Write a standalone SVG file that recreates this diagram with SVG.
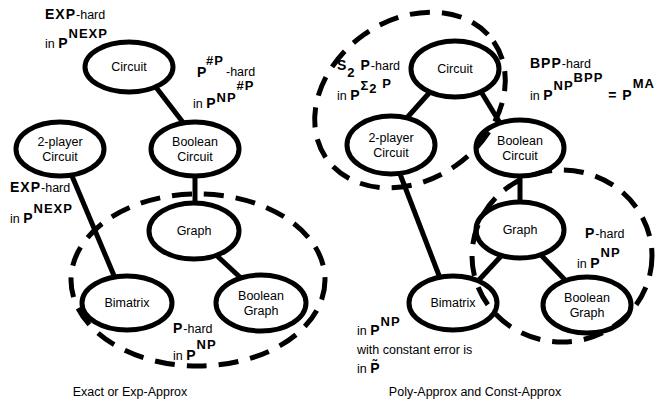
<svg xmlns="http://www.w3.org/2000/svg" width="655" height="401" viewBox="0 0 655 401">
<style>
.n{fill:#fff;stroke:#000;stroke-width:5}
.d{fill:none;stroke:#000;stroke-width:5;stroke-dasharray:20 12}
.c{stroke:#000;stroke-width:5;fill:none}
text{font-family:"Liberation Sans",Arial,sans-serif;fill:#000}
.l{font-size:12.5px;text-anchor:middle}
.r{font-size:12.5px}
.b{font-weight:bold;font-size:14px;letter-spacing:1px}
.s{font-weight:bold;font-size:13px;letter-spacing:1px}
.cap{font-size:12.5px;text-anchor:middle}
</style>
<rect width="655" height="401" fill="#fff"/>
<g id="connectors">
<line class="c" x1="155" y1="86" x2="185" y2="125"/>
<line class="c" x1="195" y1="176" x2="195" y2="203"/>
<line class="c" x1="72" y1="176" x2="115" y2="278"/>
<line class="c" x1="215" y1="254" x2="243" y2="280"/>
<line class="c" x1="480" y1="90" x2="500" y2="123"/>
<line class="c" x1="430" y1="92" x2="405" y2="120"/>
<line class="c" x1="400" y1="174" x2="440" y2="278"/>
<line class="c" x1="520" y1="176" x2="520" y2="203"/>
<line class="c" x1="503" y1="254" x2="478" y2="281"/>
<line class="c" x1="540" y1="254" x2="566" y2="281"/>
</g>
<g id="left-circuit"><ellipse class="n" cx="129" cy="67" rx="44" ry="25"/><text class="l" x="129" y="71">Circuit</text></g>
<g id="left-2player"><ellipse class="n" cx="60" cy="149" rx="44" ry="27"/><text class="l" x="60" y="146">2-player</text><text class="l" x="60" y="161">Circuit</text></g>
<g id="left-boolean-circuit"><ellipse class="n" cx="195" cy="149" rx="44" ry="27"/><text class="l" x="195" y="146">Boolean</text><text class="l" x="195" y="161">Circuit</text></g>
<g id="left-graph"><ellipse class="n" cx="194" cy="231" rx="45" ry="28"/><text class="l" x="194" y="235">Graph</text></g>
<g id="left-bimatrix"><ellipse class="n" cx="127" cy="303" rx="45" ry="27"/><text class="l" x="127" y="307">Bimatrix</text></g>
<g id="left-boolean-graph"><ellipse class="n" cx="261" cy="303" rx="45" ry="28"/><text class="l" x="261" y="300">Boolean</text><text class="l" x="261" y="315">Graph</text></g>
<ellipse class="d" cx="198" cy="280" rx="127" ry="86"/>

<g id="right-circuit"><ellipse class="n" cx="455" cy="69" rx="44" ry="28"/><text class="l" x="455" y="73">Circuit</text></g>
<g id="right-2player"><ellipse class="n" cx="391" cy="145" rx="44" ry="29"/><text class="l" x="391" y="142">2-player</text><text class="l" x="391" y="157">Circuit</text></g>
<g id="right-boolean-circuit"><ellipse class="n" cx="520" cy="148" rx="44" ry="28"/><text class="l" x="520" y="145">Boolean</text><text class="l" x="520" y="160">Circuit</text></g>
<g id="right-graph"><ellipse class="n" cx="520" cy="230" rx="44" ry="28"/><text class="l" x="520" y="234">Graph</text></g>
<g id="right-bimatrix"><ellipse class="n" cx="453" cy="303" rx="44" ry="27"/><text class="l" x="453" y="307">Bimatrix</text></g>
<g id="right-boolean-graph"><ellipse class="n" cx="587" cy="305" rx="44" ry="28"/><text class="l" x="587" y="302">Boolean</text><text class="l" x="587" y="317">Graph</text></g>
<ellipse class="d" cx="410" cy="100" rx="102" ry="80" transform="rotate(-35 410 100)"/>
<ellipse class="d" cx="562" cy="256" rx="90" ry="86"/>

<text class="r" x="45" y="19"><tspan class="b">EXP</tspan>-hard</text>
<text class="r" x="45" y="48">in <tspan class="b">P</tspan><tspan class="s" dy="-10">NEXP</tspan></text>
<text class="b" x="197" y="77">P</text><text class="s" x="206" y="65">#P</text><text class="r" x="226" y="76">-hard</text>
<text class="r" x="193" y="108">in <tspan class="b">P</tspan><tspan class="s" dy="-6">NP</tspan><tspan class="s" dy="-12">#P</tspan></text>
<text class="r" x="10" y="192"><tspan class="b">EXP</tspan>-hard</text>
<text class="r" x="10" y="223">in <tspan class="b">P</tspan><tspan class="s" dy="-10">NEXP</tspan></text>
<text class="r" x="173" y="333"><tspan class="b">P</tspan>-hard</text>
<text class="r" x="173" y="360">in <tspan class="b">P</tspan><tspan class="s" dy="-11">NP</tspan></text>
<text class="cap" x="130" y="396">Exact or Exp-Approx</text>

<text class="r" x="337" y="70"><tspan class="b">S</tspan><tspan class="s" dy="7">2</tspan><tspan class="b" dy="-7"> P</tspan>-hard</text>
<text class="r" x="337" y="100">in <tspan class="b">P</tspan><tspan class="s" dy="-10">Σ</tspan><tspan class="s" dy="3">2</tspan><tspan class="s" dy="-5"> P</tspan></text>
<text class="r" x="530" y="68"><tspan class="b">BPP</tspan>-hard</text>
<text class="r" x="530" y="100">in <tspan class="b">P</tspan><tspan class="s" dy="-10">NP</tspan><tspan class="s" dy="-8">BPP</tspan><tspan class="b" dy="18"> = P</tspan><tspan class="s" dy="-12">MA</tspan></text>
<text class="r" x="585" y="238"><tspan class="b">P</tspan>-hard</text>
<text class="r" x="577" y="268">in <tspan class="b">P</tspan><tspan class="s" dy="-11">NP</tspan></text>
<text class="r" x="357" y="335">in <tspan class="b">P</tspan><tspan class="s" dy="-9">NP</tspan></text>
<text class="r" x="357" y="354">with constant error is</text>
<text class="r" x="357" y="373">in <tspan class="b">P̃</tspan></text>
<text class="cap" x="475" y="396">Poly-Approx and Const-Approx</text>
</svg>
